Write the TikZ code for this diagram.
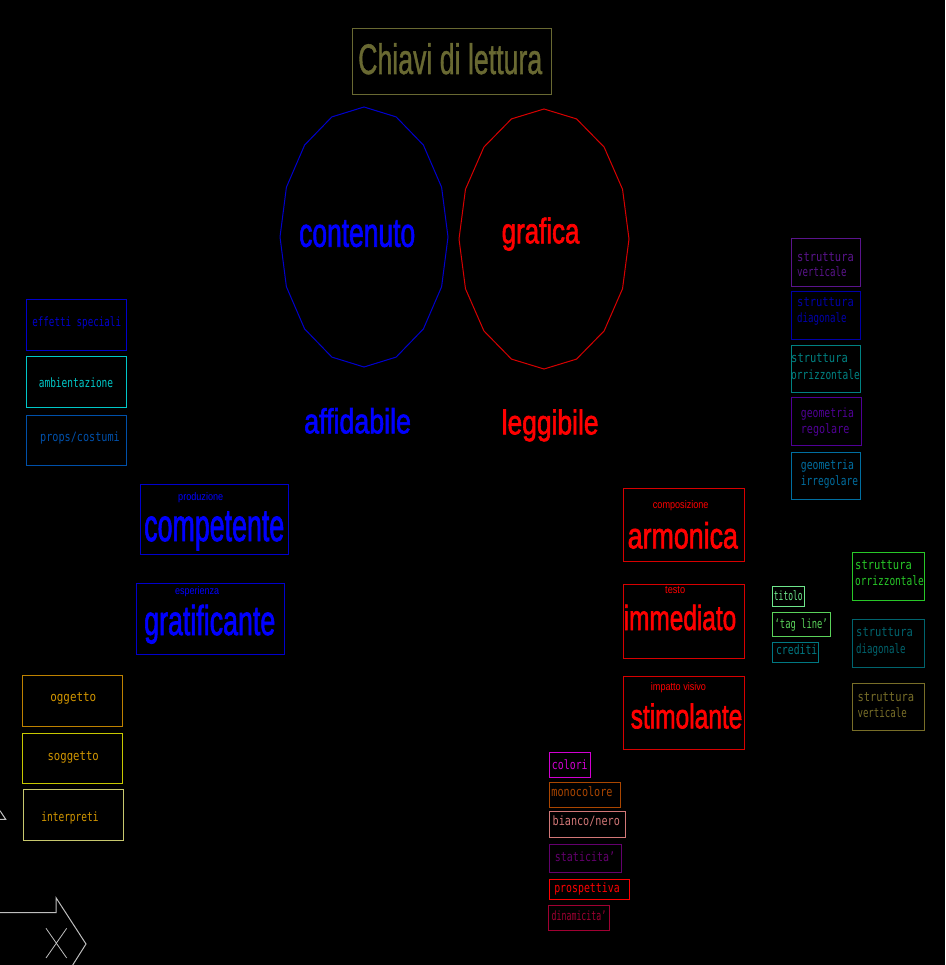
\documentclass[tikz,border=0pt]{standalone}
\usepackage{fontspec}
\usepackage{graphicx}
\newfontfamily\arial{Liberation Sans}
\newfontfamily\arialfb[FakeBold=2]{Liberation Sans}
\newfontfamily\arialtb[FakeBold=1.2]{Liberation Sans}
\newfontfamily\dmono{DejaVu Sans Mono}
\newcommand\AT[3]{\scalebox{1}[#2]{\arialfb\fontsize{#1}{#1}\selectfont #3}}
\newcommand\ATT[3]{\scalebox{1}[#2]{\arialtb\fontsize{#1}{#1}\selectfont #3}}
\newcommand\AS[3]{\scalebox{1}[#2]{\arial\fontsize{#1}{#1}\selectfont #3}}
\newcommand\lb[2][1]{\scalebox{#1}[1.35]{\dmono\fontsize{9.5}{11}\selectfont #2}}
\definecolor{olivec}{RGB}{105,105,50}
\definecolor{tblue}{RGB}{0,0,255}
\definecolor{bblue}{RGB}{0,0,205}
\definecolor{tred}{RGB}{255,0,0}
\definecolor{bred}{RGB}{215,0,0}
\definecolor{cyanc}{RGB}{0,200,200}
\definecolor{steelc}{RGB}{0,80,170}
\definecolor{purpc}{RGB}{90,20,140}
\definecolor{dblue}{RGB}{0,0,170}
\definecolor{tealc}{RGB}{0,130,130}
\definecolor{purp2}{RGB}{80,0,150}
\definecolor{steel2}{RGB}{0,110,160}
\definecolor{lgreen}{RGB}{110,230,140}
\definecolor{mgreen}{RGB}{90,210,90}
\definecolor{teal2}{RGB}{0,120,130}
\definecolor{bgreen}{RGB}{40,200,40}
\definecolor{teal3}{RGB}{0,100,110}
\definecolor{olive2}{RGB}{120,110,40}
\definecolor{magc}{RGB}{210,0,210}
\definecolor{brownc}{RGB}{170,70,0}
\definecolor{salmc}{RGB}{210,120,120}
\definecolor{purp3}{RGB}{100,0,110}
\definecolor{crimc}{RGB}{160,0,50}
\definecolor{orangec}{RGB}{210,150,0}
\definecolor{orangeb}{RGB}{190,130,0}
\definecolor{yellowb}{RGB}{200,200,0}
\definecolor{khakib}{RGB}{200,200,110}
\definecolor{grayc}{RGB}{190,190,190}
\begin{document}
\begin{tikzpicture}[x=1pt,y=-1pt,
  lbl/.style={inner sep=0pt, anchor=base},
  lbw/.style={inner sep=0pt, anchor=base west},
  bx/.style={line width=1pt}]
\useasboundingbox (0,0) rectangle (945,965);
\fill[black] (0,0) rectangle (945,965);

% title
\draw[bx, olivec] (352.7,28.3) rectangle (551,95);
\node[lbw, text=olivec] (title) at (358,74) {\ATT{26.7}{1.6}{Chiavi di lettura}};

% ellipses
\draw[bx, bblue] plot[samples=17, domain=0:360, variable=\t] ({364+84*cos(\t)},{237+130*sin(\t)}) -- cycle;
\draw[bx, bred] plot[samples=17, domain=0:360, variable=\t] ({544+85*cos(\t)},{239+130*sin(\t)}) -- cycle;
\node[lbw, text=tblue] (contenuto) at (299,246.7) {\AT{26.4}{1.55}{contenuto}};
\node[lbw, text=tred] (grafica) at (501.5,243.3) {\AT{25.9}{1.37}{grafica}};
\node[lbw, text=tblue] (affidabile) at (304,433.3) {\AT{26.8}{1.3}{affidabile}};
\node[lbw, text=tred] (leggibile) at (501.5,434.3) {\AT{26.4}{1.3}{leggibile}};

% left boxes
\draw[bx, bblue] (26.7,299) rectangle (126.7,350);
\node[lbl, text=bblue] (effetti) at (76.7,326.5) {\lb[0.97]{effetti speciali}};
\draw[bx, cyanc] (26.7,356.7) rectangle (126.7,407);
\node[lbl, text=cyanc] (ambient) at (76,387.5) {\lb{ambientazione}};
\draw[bx, steelc] (26.7,415.7) rectangle (126.7,465.7);
\node[lbl, text=steelc] (props) at (80,441.5) {\lb[1.07]{props/costumi}};

% competente / gratificante
\draw[bx, bblue] (140.7,484.7) rectangle (288.3,554);
\node[lbw, text=tblue] (produzione) at (178,500.5) {\AS{9.1}{1.2}{produzione}};
\node[lbw, text=tblue] (competente) at (144,541) {\AT{26.8}{1.7}{competente}};
\draw[bx, bblue] (136.7,583.7) rectangle (284.3,654);
\node[lbw, text=tblue] (esperienza) at (175,594.7) {\AS{9}{1.2}{esperienza}};
\node[lbw, text=tblue] (gratificante) at (144,635) {\AT{26.8}{1.56}{gratificante}};

% red boxes
\draw[bx, bred] (623.3,488.3) rectangle (744.3,561.7);
\node[lbw, text=tred] (composizione) at (652.7,508.3) {\AS{9.1}{1.2}{composizione}};
\node[lbw, text=tred] (armonica) at (627.5,548.3) {\AT{26.8}{1.35}{armonica}};
\draw[bx, bred] (623.3,584.3) rectangle (744.3,658.3);
\node[lbw, text=tred] (testo) at (665,593.3) {\AS{9.2}{1.2}{testo}};
\node[lbw, text=tred] (immediato) at (623.5,630) {\AT{24.4}{1.43}{immediato}};
\draw[bx, bred] (623.3,676.7) rectangle (744.3,749.3);
\node[lbw, text=tred] (impatto) at (650.7,690) {\AS{9.1}{1.2}{impatto visivo}};
\node[lbw, text=tred] (stimolante) at (630.5,728.3) {\AT{24.5}{1.4}{stimolante}};

% right column
\draw[bx, purpc] (791.7,239) rectangle (860.7,286);
\node[lbw, text=purpc] (sv1) at (797,261.2) {\lb[1.1]{struttura}};
\node[lbw, text=purpc] (sv2) at (797,276.5) {\lb[0.96]{verticale}};
\draw[bx, dblue] (791.7,291.7) rectangle (860.7,339);
\node[lbw, text=dblue] (sd1) at (797,306.2) {\lb[1.1]{struttura}};
\node[lbw, text=dblue] (sd2) at (797,322.8) {\lb[0.96]{diagonale}};
\draw[bx, tealc] (791.7,345) rectangle (860.7,392.7);
\node[lbw, text=tealc] (so1) at (791,362.2) {\lb[1.1]{struttura}};
\node[lbw, text=tealc] (so2) at (791,379.5) {\lb{orrizzontale}};
\draw[bx, purp2] (791.7,397.7) rectangle (861.7,445);
\node[lbw, text=purp2] (gr1) at (800.7,417.2) {\lb[1.03]{geometria}};
\node[lbw, text=purp2] (gr2) at (800.7,433.8) {\lb[1.06]{regolare}};
\draw[bx, steel2] (791.7,452.7) rectangle (860.7,499.3);
\node[lbw, text=steel2] (gi1) at (800.7,469.5) {\lb[1.03]{geometria}};
\node[lbw, text=steel2] (gi2) at (800.7,485.2) {\lb{irregolare}};

% titolo etc
\draw[bx, lgreen] (772.3,586.7) rectangle (804.3,606);
\node[lbl, text=lgreen] (titolo) at (788.3,600.5) {\lb[0.84]{titolo}};
\draw[bx, mgreen] (772.3,612.7) rectangle (830,636);
\node[lbl, text=mgreen] (tagline) at (801.2,628.5) {\lb[0.93]{‘tag line’}};
\draw[bx, teal2] (772.3,642.3) rectangle (818.3,662.3);
\node[lbl, text=teal2] (crediti) at (796.7,654.8) {\lb[1.03]{crediti}};

% right green column
\draw[bx, bgreen] (852.3,552.3) rectangle (924,600);
\node[lbw, text=bgreen] (go1) at (855,569.5) {\lb[1.1]{struttura}};
\node[lbw, text=bgreen] (go2) at (855,585.5) {\lb{orrizzontale}};
\draw[bx, teal3] (852.3,619) rectangle (924,667.3);
\node[lbw, text=teal3] (gd1) at (856,636.8) {\lb[1.1]{struttura}};
\node[lbw, text=teal3] (gd2) at (856,653.5) {\lb[0.96]{diagonale}};
\draw[bx, olive2] (852.3,683.3) rectangle (924,730.7);
\node[lbw, text=olive2] (gv1) at (857.3,701.2) {\lb[1.1]{struttura}};
\node[lbw, text=olive2] (gv2) at (857.3,717.2) {\lb[0.96]{verticale}};

% bottom column
\draw[bx, magc] (549.3,752.3) rectangle (590.7,777.3);
\node[lbl, text=magc] (colori) at (569.8,769.5) {\lb[1.04]{colori}};
\draw[bx, brownc] (549.3,782.3) rectangle (620,807.3);
\node[lbl, text=brownc] (mono) at (582,796.2) {\lb[1.07]{monocolore}};
\draw[bx, salmc] (549.3,811.7) rectangle (625.7,837);
\node[lbl, text=salmc] (bianco) at (586.3,825.5) {\lb[1.07]{bianco/nero}};
\draw[bx, purp3] (549.3,844.3) rectangle (621.7,872.7);
\node[lbl, text=purp3] (statica) at (585,861.2) {\lb[1.05]{staticita’}};
\draw[bx, tred] (549.3,879.3) rectangle (629.3,899);
\node[lbl, text=tred] (prosp) at (587,892.8) {\lb[1.04]{prospettiva}};
\draw[bx, crimc] (548,905) rectangle (609.3,930);
\node[lbl, text=crimc] (dinam) at (579,920.2) {\lb[0.87]{dinamicita’}};

% left bottom
\draw[bx, orangeb] (22.7,675.7) rectangle (122.7,726.3);
\node[lbl, text=orangec] (oggetto) at (73.3,701.2) {\lb[1.15]{oggetto}};
\draw[bx, yellowb] (22.7,733.3) rectangle (122.7,783.3);
\node[lbl, text=orangec] (soggetto) at (73.2,760.2) {\lb[1.12]{soggetto}};
\draw[bx, khakib] (23.3,789.3) rectangle (123.7,840);
\node[lbl, text=orangec] (interpreti) at (70,821.2) {\lb{interpreti}};

% fragments of icons
\draw[grayc, line width=1pt] (0,810.7) -- (5.7,819.3) -- (0,819.3);
\draw[grayc, line width=1pt] (0,912.7) -- (56,912.7) -- (56,897.7) -- (86,944) -- (72.7,965);
\draw[grayc, line width=0.8pt] (46,928.3) -- (66.7,958) (66.7,928.3) -- (46,958);
\end{tikzpicture}
\end{document}
